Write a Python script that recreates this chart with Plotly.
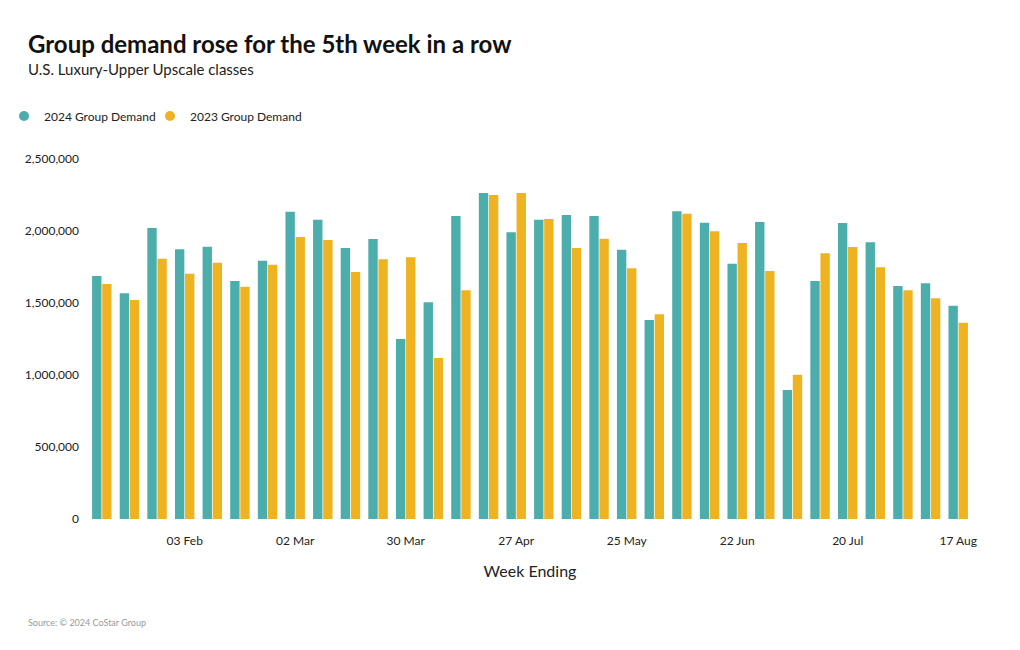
import plotly.graph_objects as go

weeks = ["2024-01-13", "2024-01-20", "2024-01-27", "2024-02-03", "2024-02-10", "2024-02-17",
         "2024-02-24", "2024-03-02", "2024-03-09", "2024-03-16", "2024-03-23", "2024-03-30",
         "2024-04-06", "2024-04-13", "2024-04-20", "2024-04-27", "2024-05-04", "2024-05-11",
         "2024-05-18", "2024-05-25", "2024-06-01", "2024-06-08", "2024-06-15", "2024-06-22",
         "2024-06-29", "2024-07-06", "2024-07-13", "2024-07-20", "2024-07-27", "2024-08-03",
         "2024-08-10", "2024-08-17"]

demand_2024 = [1687500, 1567000, 2020800, 1872700, 1891200, 1652800, 1794000, 2134200,
               2078700, 1882000, 1944400, 1250000, 1504600, 2104100, 2263900, 1990700,
               2078700, 2111100, 2104100, 1870400, 1381900, 2136600, 2057900, 1773100,
               2062500, 895800, 1652800, 2055600, 1921300, 1618100, 1636600, 1481500]

demand_2023 = [1632000, 1521000, 1808000, 1703700, 1780100, 1613400, 1766200, 1958300,
               1937500, 1715300, 1803200, 1817100, 1118000, 1588000, 2250000, 2263900,
               2083300, 1882000, 1946700, 1740700, 1421300, 2120400, 1997700, 1916700,
               1722200, 1002300, 1844900, 1888900, 1747700, 1588000, 1532400, 1363400]

tick_weeks = ["2024-02-03", "2024-03-02", "2024-03-30", "2024-04-27",
              "2024-05-25", "2024-06-22", "2024-07-20", "2024-08-17"]
tick_labels = ["03 Feb", "02 Mar", "30 Mar", "27 Apr", "25 May", "22 Jun", "20 Jul", "17 Aug"]

y_ticks = [0, 500000, 1000000, 1500000, 2000000, 2500000]

TEAL = "#4CAEAC"
GOLD = "#EFB322"
FONT = "Lato"

fig = go.Figure()
fig.add_trace(go.Bar(x=weeks, y=demand_2024, name="2024 Group Demand",
                     marker=dict(color=TEAL, line=dict(width=0)), showlegend=False))
fig.add_trace(go.Bar(x=weeks, y=demand_2023, name="2023 Group Demand",
                     marker=dict(color=GOLD, line=dict(width=0)), showlegend=False))
# legend entries with round markers, one legend each for exact placement
fig.add_trace(go.Scatter(x=[None], y=[None], mode="markers", name="2024 Group Demand",
                         marker=dict(color=TEAL, size=10, symbol="circle"), legend="legend"))
fig.add_trace(go.Scatter(x=[None], y=[None], mode="markers", name="2023 Group Demand",
                         marker=dict(color=GOLD, size=10, symbol="circle"), legend="legend2"))

L, R, T, B = 88, 48, 159, 131
W, H = 1020, 650
pw, ph = W - L - R, H - T - B

def px_x(p):
    return (p - L) / pw

def px_y(p):
    return (H - B - p) / ph

leg_common = dict(orientation="h", xanchor="left", y=px_y(116), yanchor="middle",
                  font=dict(size=12, family=FONT, color="#222222"), itemwidth=30,
                  bgcolor="rgba(0,0,0,0)")

fig.update_layout(
    width=W, height=H,
    margin=dict(l=L, r=R, t=T, b=B, autoexpand=False),
    paper_bgcolor="white", plot_bgcolor="white",
    font=dict(family=FONT, color="#222222", size=12),
    barmode="group", bargap=0.27, bargroupgap=0.07,
    showlegend=True,
    legend=dict(x=px_x(4), **leg_common),
    legend2=dict(x=px_x(150), **leg_common),
    xaxis=dict(type="category", tickmode="array", tickvals=tick_weeks, ticktext=tick_labels,
               showgrid=False, showline=False, zeroline=False, ticks="",
               tickfont=dict(size=12, color="#222222"), ticklabelstandoff=13,
               title=dict(text="Week Ending", font=dict(size=16, color="#222222"), standoff=18)),
    yaxis=dict(range=[0, 2500000], tickmode="array", tickvals=y_ticks, tickformat=",",
               showgrid=False, showline=False, zeroline=False, ticks="",
               tickfont=dict(size=12, color="#222222"), ticklabelstandoff=8),
    annotations=[
        dict(text="<b>Group demand rose for the 5th week in a row</b>", xref="paper", yref="paper",
             x=px_x(26), y=px_y(43), xanchor="left", yanchor="middle", showarrow=False,
             font=dict(size=24, color="#111111", family=FONT)),
        dict(text="U.S. Luxury-Upper Upscale classes", xref="paper", yref="paper",
             x=px_x(26), y=px_y(69), xanchor="left", yanchor="middle", showarrow=False,
             font=dict(size=15, color="#222222", family=FONT)),
        dict(text="Source: © 2024 CoStar Group", xref="paper", yref="paper",
             x=px_x(26), y=px_y(622), xanchor="left", yanchor="middle", showarrow=False,
             font=dict(size=9, color="#999999", family=FONT)),
    ],
)

fig.write_html("out.html")
